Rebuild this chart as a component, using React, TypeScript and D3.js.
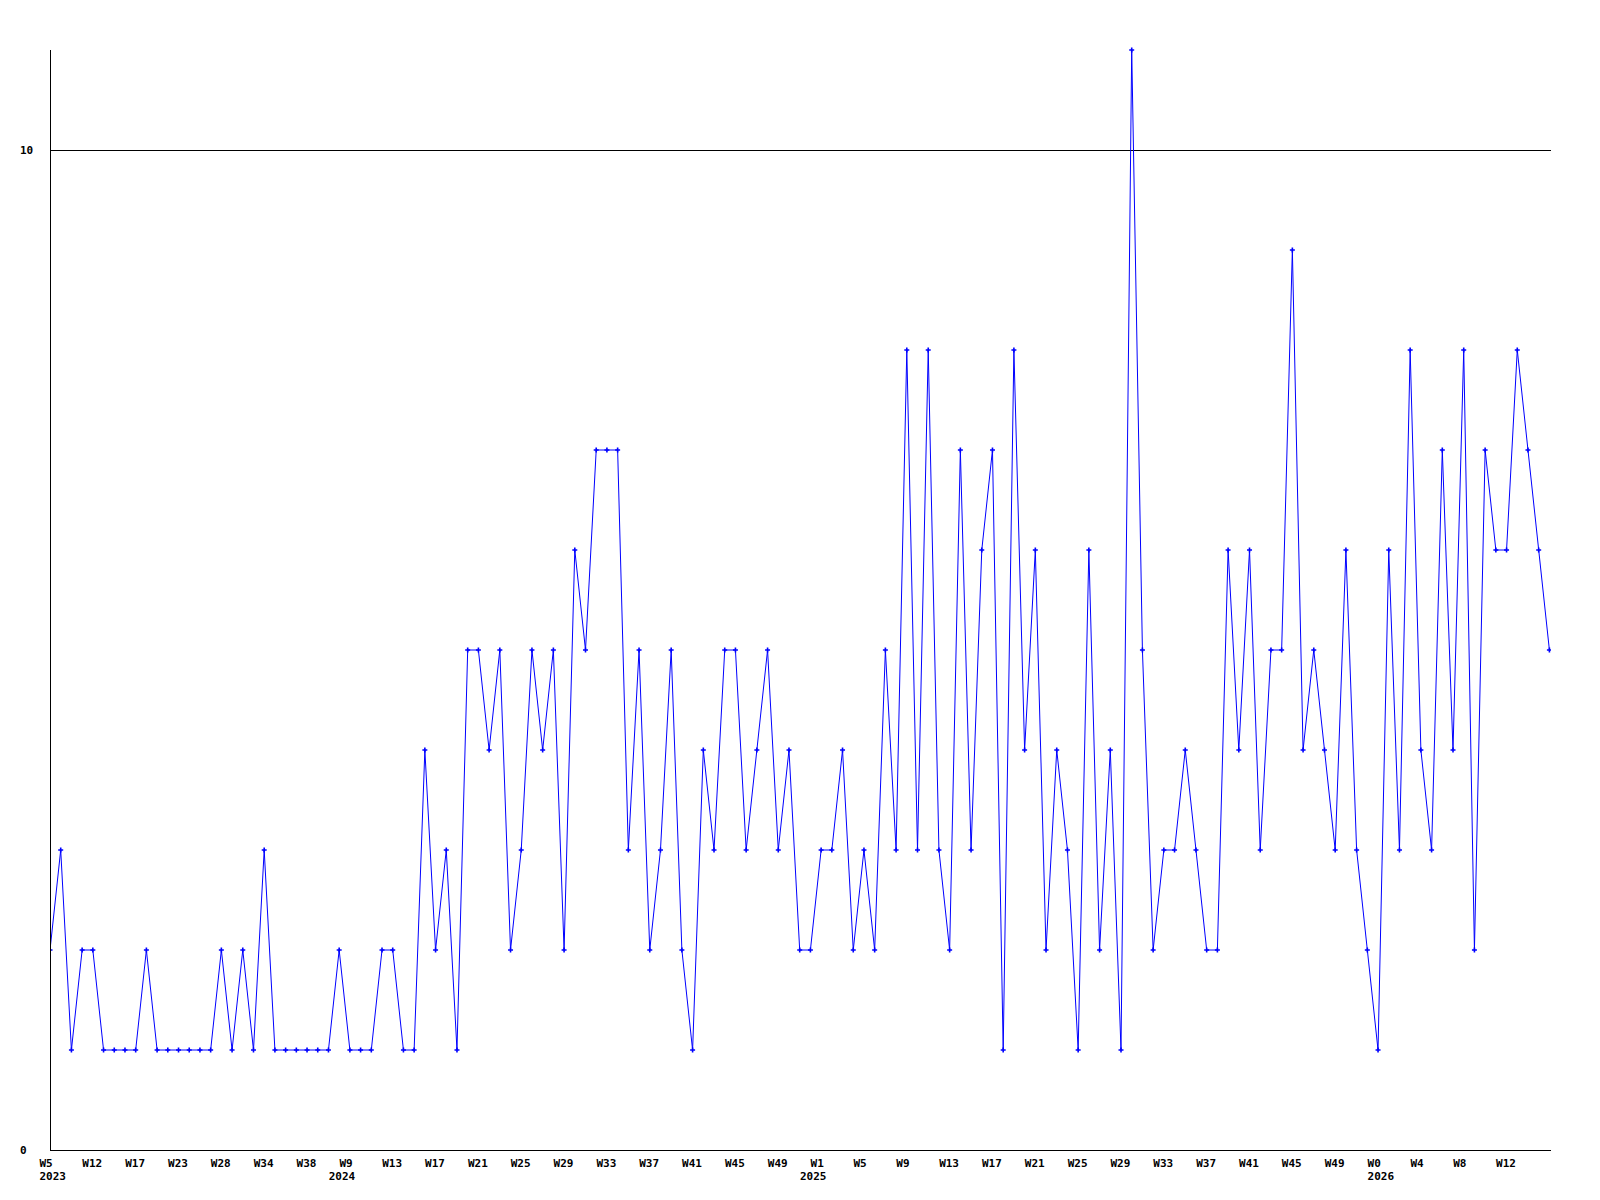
import React from "react";
import * as d3 from "d3";

const values: number[] = [
  2, 3, 1, 2, 2, 1, 1, 1, 1, 2, 1, 1, 1, 1, 1, 1, 2, 1, 2, 1,
  3, 1, 1, 1, 1, 1, 1, 2, 1, 1, 1, 2, 2, 1, 1, 4, 2, 3, 1, 5,
  5, 4, 5, 2, 3, 5, 4, 5, 2, 6, 5, 7, 7, 7, 3, 5, 2, 3, 5, 2,
  1, 4, 3, 5, 5, 3, 4, 5, 3, 4, 2, 2, 3, 3, 4, 2, 3, 2, 5, 3,
  8, 3, 8, 3, 2, 7, 3, 6, 7, 1, 8, 4, 6, 2, 4, 3, 1, 6, 2, 4,
  1, 11, 5, 2, 3, 3, 4, 3, 2, 2, 6, 4, 6, 3, 5, 5, 9, 4, 5, 4,
  3, 6, 3, 2, 1, 6, 3, 8, 4, 3, 7, 4, 8, 2, 7, 6, 6, 8, 7, 6,
  5,
];

const tickLabels: string[] = [
  "W5", "W12", "W17", "W23", "W28", "W34", "W38", "W9", "W13", "W17",
  "W21", "W25", "W29", "W33", "W37", "W41", "W45", "W49", "W1", "W5",
  "W9", "W13", "W17", "W21", "W25", "W29", "W33", "W37", "W41", "W45",
  "W49", "W0", "W4", "W8", "W12",
];
const tickEvery = 4;

const yearLabels: string[] = ["2023", "2024", "2025", "2026"];
const yearIndex: number[] = [0, 27, 71, 124];

const yTickValues: number[] = [0, 10];
const gridValues: number[] = [10];

export default function App() {
  const W = 1600;
  const H = 1200;
  const left = 50;
  const right = 1551;
  const top = 50;
  const bottom = 1150;

  const x = d3.scaleLinear().domain([0, values.length - 1]).range([left, 1549.4]);
  const y = d3.scaleLinear().domain([0, 11]).range([bottom, top]);

  const line = d3
    .line<number>()
    .x((_, i) => x(i))
    .y((d) => y(d));

  const font = "'DejaVu Sans Mono', monospace";
  const marker = (cx: number, cy: number) =>
    `M${cx - 2.5},${cy}H${cx + 2.5}M${cx},${cy - 2.5}V${cy + 2.5}`;

  return (
    <svg
      width={W}
      height={H}
      style={{ position: "absolute", left: 0, top: 0, background: "#fff" }}
    >
      <rect x={0} y={0} width={W} height={H} fill="#fff" />
      <defs>
        <clipPath id="plotclip">
          <rect x={left} y={top - 5} width={right - left} height={bottom - top + 10} />
        </clipPath>
      </defs>
      {gridValues.map((v) => (
        <line
          key={"g" + v}
          x1={left}
          x2={right}
          y1={Math.round(y(v)) + 0.5}
          y2={Math.round(y(v)) + 0.5}
          stroke="#000"
          strokeWidth={1}
          shapeRendering="crispEdges"
        />
      ))}
      <g clipPath="url(#plotclip)">
        <path d={line(values) || ""} fill="none" stroke="#0000ff" strokeWidth={1} />
        {values.map((v, i) => (
          <path
            key={"m" + i}
            d={marker(x(i), y(v))}
            fill="none"
            stroke="#0000ff"
            strokeWidth={1.6}
          />
        ))}
      </g>
      <line
        x1={left + 0.5}
        x2={left + 0.5}
        y1={top}
        y2={bottom + 1}
        stroke="#000"
        shapeRendering="crispEdges"
      />
      <line
        x1={left}
        x2={right}
        y1={bottom + 0.5}
        y2={bottom + 0.5}
        stroke="#000"
        shapeRendering="crispEdges"
      />
      {yTickValues.map((v) => (
        <text
          key={"y" + v}
          x={20}
          y={y(v) + 4}
          fontFamily={font}
          fontWeight="bold"
          fontSize={11}
          fill="#000"
        >
          {v}
        </text>
      ))}
      {tickLabels.map((t, k) => (
        <text
          key={"t" + k}
          x={x(k * tickEvery) - 10.5}
          y={1166.5}
          fontFamily={font}
          fontWeight="bold"
          fontSize={11}
          fill="#000"
        >
          {t}
        </text>
      ))}
      {yearLabels.map((t, k) => (
        <text
          key={"yr" + k}
          x={x(yearIndex[k]) - 10.5}
          y={1180}
          fontFamily={font}
          fontWeight="bold"
          fontSize={11}
          fill="#000"
        >
          {t}
        </text>
      ))}
    </svg>
  );
}
